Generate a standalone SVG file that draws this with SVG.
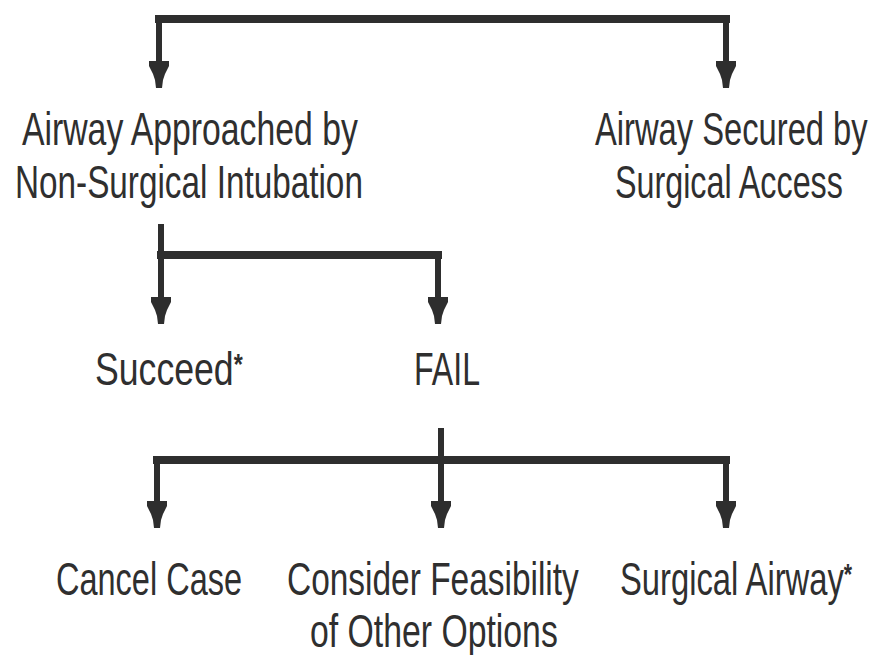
<svg xmlns="http://www.w3.org/2000/svg" xmlns:xlink="http://www.w3.org/1999/xlink" width="876" height="655" viewBox="0 0 876 655">
  <style>
    .lbl { font-family: "Liberation Sans", Arial, sans-serif; font-size: 46px; fill: #2f2f2f; }
    .star { font-size: 30px; font-weight: bold; }
    .bar { stroke: #2e2e2e; stroke-width: 8; fill: none; stroke-linecap: square; }
    .stem { stroke: #2e2e2e; stroke-width: 6; fill: none; }
    .head { fill: #2e2e2e; }
  </style>
  <defs>
    <!-- down-pointing arrowhead, origin at the tip -->
    <path id="head" class="head" d="M-10,-27 L10,-27 L10,-22 L6,-14 L4,-8 L3,0 L-3,0 L-4,-8 L-6,-14 L-10,-22 Z"/>
  </defs>

  <g id="connectors">
    <!-- top split -->
    <path class="bar" d="M159,19 L726,19"/>
    <path class="stem" d="M159,19 L159,66"/>
    <path class="stem" d="M726,19 L726,66"/>
    <use xlink:href="#head" x="159" y="88"/>
    <use xlink:href="#head" x="726" y="88"/>

    <!-- non-surgical outcome split -->
    <path class="stem" d="M161,224 L161,302"/>
    <path class="bar" d="M161,255 L438,255"/>
    <path class="stem" d="M438,255 L438,302"/>
    <use xlink:href="#head" x="161" y="324"/>
    <use xlink:href="#head" x="438" y="324"/>

    <!-- failure options split -->
    <path class="stem" d="M441,428 L441,506"/>
    <path class="bar" d="M157,460 L726,460"/>
    <path class="stem" d="M157,460 L157,506"/>
    <path class="stem" d="M726,460 L726,506"/>
    <use xlink:href="#head" x="157" y="528"/>
    <use xlink:href="#head" x="441" y="528"/>
    <use xlink:href="#head" x="726" y="528"/>
  </g>

  <!-- labels use a horizontally condensed face (scale 0.71) -->
  <g id="node-nonsurgical">
    <text class="lbl" transform="translate(22 145) scale(0.71 1)" textLength="473" lengthAdjust="spacingAndGlyphs">Airway Approached by</text>
    <text class="lbl" transform="translate(15 198) scale(0.71 1)" textLength="490" lengthAdjust="spacingAndGlyphs">Non-Surgical Intubation</text>
  </g>

  <g id="node-surgical-access">
    <text class="lbl" transform="translate(595 145) scale(0.71 1)" textLength="384" lengthAdjust="spacingAndGlyphs">Airway Secured by</text>
    <text class="lbl" transform="translate(615 198) scale(0.71 1)" textLength="321" lengthAdjust="spacingAndGlyphs">Surgical Access</text>
  </g>

  <g id="node-succeed">
    <text class="lbl" transform="translate(95 385) scale(0.71 1)" textLength="208" lengthAdjust="spacingAndGlyphs">Succeed<tspan class="star" dy="-11">*</tspan></text>
  </g>

  <g id="node-fail">
    <text class="lbl" transform="translate(414 385) scale(0.71 1)" textLength="93" lengthAdjust="spacingAndGlyphs">FAIL</text>
  </g>

  <g id="node-cancel">
    <text class="lbl" transform="translate(56 595) scale(0.71 1)" textLength="262" lengthAdjust="spacingAndGlyphs">Cancel Case</text>
  </g>

  <g id="node-other-options">
    <text class="lbl" transform="translate(287 595) scale(0.71 1)" textLength="411" lengthAdjust="spacingAndGlyphs">Consider Feasibility</text>
    <text class="lbl" transform="translate(310 647) scale(0.71 1)" textLength="349" lengthAdjust="spacingAndGlyphs">of Other Options</text>
  </g>

  <g id="node-surgical-airway">
    <text class="lbl" transform="translate(620 595) scale(0.71 1)" textLength="327" lengthAdjust="spacingAndGlyphs">Surgical Airway<tspan class="star" dy="-11">*</tspan></text>
  </g>
</svg>
